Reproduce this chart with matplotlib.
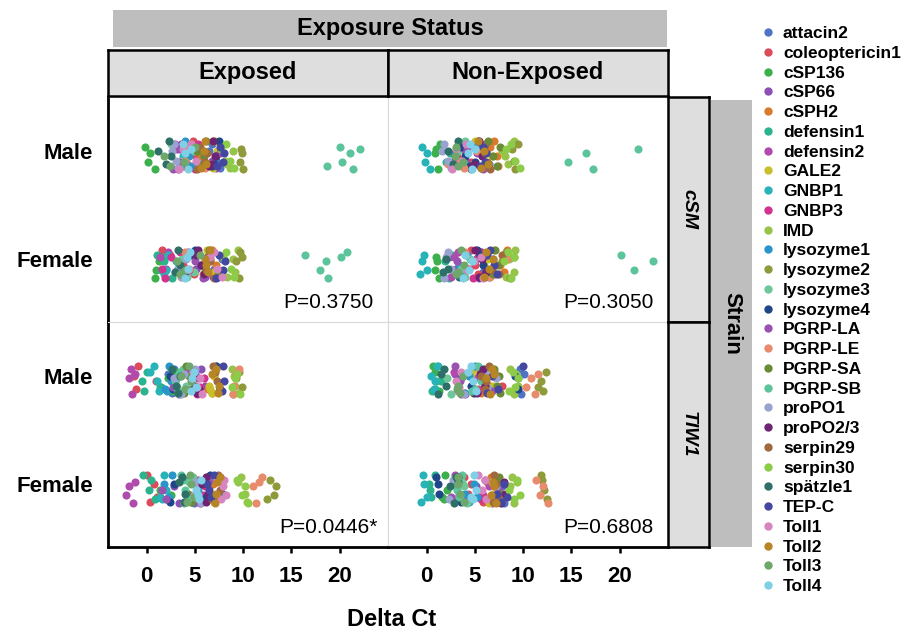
import matplotlib.pyplot as plt
from matplotlib.lines import Line2D

plt.rcParams['font.family'] = ['Liberation Sans', 'DejaVu Sans']

genes = ['attacin2', 'coleoptericin1', 'cSP136', 'cSP66', 'cSPH2', 'defensin1',
         'defensin2', 'GALE2', 'GNBP1', 'GNBP3', 'IMD', 'lysozyme1', 'lysozyme2',
         'lysozyme3', 'lysozyme4', 'PGRP-LA', 'PGRP-LE', 'PGRP-SA', 'PGRP-SB',
         'proPO1', 'proPO2/3', 'serpin29', 'serpin30', 'spätzle1', 'TEP-C',
         'Toll1', 'Toll2', 'Toll3', 'Toll4']
gene_colors = ['#4f74c4', '#dc4b5a', '#3cb04a', '#8c4fb5', '#d97a2c', '#2bb38e',
               '#b04aad', '#c8bf2d', '#27b3b8', '#d1338f', '#98c34a', '#2a95c8',
               '#8f9a3b', '#6dc79a', '#20468a', '#9a52b0', '#e88a6c', '#6b8a35',
               '#5cc49a', '#9aa3cf', '#6e2472', '#a06a3e', '#8ccc48', '#2e6f68',
               '#4447a0', '#d685bf', '#b78526', '#6fa76a', '#7fd0e6']

sexes = ['Male', 'Female']
exposures = ['Exposed', 'Non-Exposed']
strains = ['cSM', 'TIW1']
p_labels = [['P=0.3750', 'P=0.3050'], ['P=0.0446*', 'P=0.6808']]
x_ticks = [0, 5, 10, 15, 20]

# Delta Ct per gene (same order as genes), one list per strain/exposure/sex
csm_exp_male = [
    [6.8, 7.2, 7.6, 6.5], [4.2, 4.8, 5.1, 3.9], [-0.2, 0.1, 0.3, 0.9], [3.1, 3.6, 6.8, 7.2],
    [5.8, 6.4, 6.9, 5.6], [3.5, 4.1, 5.9, 6.1], [3.2, 3.5, 2.9, 4.0], [6.9, 7.3, 6.6, 7.1],
    [3.8, 4.4, 4.0, 3.6], [4.5, 5.0, 4.7, 5.3], [8.1, 8.6, 8.9, 8.3], [4.0, 4.4, 4.7, 3.7],
    [9.7, 9.9, 10.0, 9.8], [2.5, 3.6, 3.4, 4.9], [7.0, 7.5, 7.2, 6.8], [3.2, 3.4, 7.6, 2.7],
    [4.2, 4.6, 4.0, 6.0], [5.2, 5.6, 6.1, 5.9], [18.7, 20.0, 20.2, 21.1, 21.4, 22.1],
    [2.8, 3.0, 3.3, 2.6], [6.7, 6.9, 7.1, 6.5], [5.5, 6.0, 6.3, 5.2], [7.7, 8.2, 8.6, 9.0],
    [1.2, 2.0, 2.3, 2.5], [7.3, 7.6, 7.9, 8.0], [3.4, 3.8, 4.6, 5.1], [5.6, 5.9, 6.2, 6.0],
    [1.8, 2.4, 5.0, 3.9], [4.0, 4.3, 4.6, 3.8]]
csm_exp_female = [
    [7.0, 7.4, 7.8, 6.6], [1.6, 3.8, 4.9, 2.4], [1.0, 1.3, 0.9, 1.6], [4.3, 5.1, 6.0, 6.6],
    [6.2, 6.8, 7.2, 5.8], [1.1, 1.5, 1.8, 2.6], [1.4, 2.2, 2.0, 6.9], [6.6, 7.0, 6.3, 5.9],
    [1.8, 2.2, 2.0, 3.0], [1.9, 2.5, 3.5, 1.6], [8.3, 8.9, 9.2, 9.5], [3.4, 4.0, 4.4, 3.1],
    [9.3, 9.6, 9.9, 9.7], [3.3, 4.2, 3.7, 4.9], [5.0, 5.6, 3.9, 4.6], [4.4, 5.0, 5.8, 6.4],
    [4.0, 4.4, 3.6, 6.3], [6.0, 6.5, 5.7, 7.4], [16.4, 18.0, 18.6, 18.8, 20.1, 20.8],
    [3.2, 3.7, 4.1, 2.9], [5.3, 5.6, 5.9, 5.1], [6.1, 6.6, 7.0, 6.3], [8.2, 8.7, 9.0, 8.0],
    [2.9, 3.2, 3.5, 3.6], [7.5, 7.9, 8.1, 7.2], [6.6, 7.0, 7.3, 7.8], [6.0, 6.4, 6.6, 6.2],
    [3.5, 5.5, 4.0, 3.1], [4.0, 4.2, 4.5, 4.3]]
csm_non_male = [
    [5.7, 6.2, 6.5, 5.3], [3.1, 3.9, 5.4, 4.6], [0.9, 1.2, 1.0, 1.4], [2.8, 5.6, 6.2, 4.9],
    [7.0, 7.3, 7.4, 6.6], [2.0, 2.4, 4.6, 3.1], [3.5, 3.0, 2.6, 4.0], [4.8, 5.0, 6.8, 4.3],
    [-0.5, -0.2, 0.0, 0.3], [3.4, 3.8, 4.1, 4.5], [7.8, 8.4, 9.0, 8.1], [4.4, 5.0, 3.9, 2.9],
    [9.2, 8.8, 9.5, 9.0], [2.6, 3.2, 3.6, 4.0], [4.0, 4.5, 3.6, 5.0], [5.2, 5.8, 4.2, 6.0],
    [3.3, 3.9, 5.2, 2.2], [6.4, 6.9, 7.3, 7.6], [14.6, 16.5, 17.2, 21.9],
    [1.8, 2.2, 2.5, 1.6], [5.0, 5.4, 5.7, 4.7], [5.9, 6.3, 6.0, 6.6], [8.2, 8.7, 9.2, 9.7],
    [2.2, 2.7, 3.3, 2.9], [5.5, 5.8, 6.0, 6.2], [2.6, 3.0, 4.1, 3.7], [5.6, 5.9, 6.4, 5.3],
    [2.9, 3.3, 3.0, 3.8], [4.3, 4.7, 5.0, 4.5]]
csm_non_female = [
    [6.1, 6.5, 6.9, 5.8], [4.6, 5.0, 5.3, 4.1], [0.9, 1.1, 1.3, 1.0], [5.6, 6.2, 6.0, 5.1],
    [8.0, 8.3, 7.6, 7.1], [2.6, 3.1, 1.9, 2.3], [2.8, 3.3, 3.0, 2.5], [6.4, 6.8, 7.0, 5.9],
    [-0.7, -0.3, 0.0, -0.5], [4.8, 5.3, 5.6, 4.4], [8.2, 8.5, 9.0, 9.2], [3.4, 3.8, 4.2, 3.1],
    [7.8, 8.6, 9.1, 8.2], [3.6, 4.0, 4.5, 3.3], [5.2, 5.8, 6.0, 5.5], [2.7, 3.1, 5.4, 2.3],
    [4.0, 4.3, 6.6, 8.3], [6.6, 7.1, 7.4, 6.9], [20.1, 21.5, 23.4],
    [1.8, 2.0, 2.2, 2.5], [5.4, 5.7, 6.1, 5.0], [7.1, 7.5, 7.8, 6.8], [8.0, 8.7, 9.1, 8.4],
    [2.2, 3.4, 2.0, 1.7], [6.6, 7.0, 7.3, 6.3], [4.2, 4.9, 5.8, 5.6], [6.2, 6.5, 5.9, 6.9],
    [3.2, 3.6, 3.9, 3.0], [4.0, 4.4, 4.7, 3.8]]
tiw_exp_male = [
    [2.2, 2.8, 3.0, 2.6], [-1.3, -1.1, -0.9, 1.0], [2.6, 3.0, 1.5, 2.2], [3.4, 5.0, 5.6, 6.0],
    [6.8, 7.0, 6.4, 7.2], [-0.5, -0.3, 0.0, 1.4], [-1.8, -1.5, -1.2, -1.6], [6.5, 6.8, 7.0, 6.6],
    [0.8, 1.1, 1.3, 0.3], [5.5, 5.9, 5.2, 4.8], [8.8, 9.2, 9.6, 9.0], [1.9, 2.3, 2.5, 2.1],
    [9.6, 9.9, 9.3, 8.9], [3.4, 3.8, 4.1, 3.2], [2.4, 2.7, 7.2, 2.9], [3.2, 4.2, 2.7, 5.3],
    [8.9, 9.3, 9.6, 9.0], [3.9, 4.4, 4.7, 4.1], [2.9, 3.3, 3.5, 3.1],
    [2.8, 3.6, 3.9, 5.0], [5.0, 5.2, 4.9, 5.4], [6.9, 7.3, 7.5, 7.1], [8.8, 9.2, 9.7, 9.4],
    [2.6, 3.0, 3.3, 3.5], [7.6, 7.9, 8.0, 7.8], [4.8, 5.2, 5.5, 5.7], [6.8, 7.2, 7.5, 7.4],
    [3.6, 4.0, 4.4, 4.6], [4.6, 4.9, 5.1, 4.7]]
tiw_exp_female = [
    [4.9, 5.3, 7.6, 7.9], [0.4, 0.8, 1.1, 0.0], [1.4, 2.0, 4.2, 2.5], [2.8, 3.4, 5.8, 6.3],
    [4.3, 4.6, 6.9, 7.3], [-0.4, 0.2, 0.9, 0.5], [-2.1, -1.8, -1.4, -1.2], [6.3, 6.7, 7.0, 6.1],
    [1.4, 1.8, 2.0, 1.6], [5.3, 5.8, 6.0, 5.5], [9.5, 9.8, 10.2, 10.4], [1.8, 2.3, 2.6, 5.3],
    [12.5, 12.8, 13.2, 13.4], [3.9, 4.4, 4.8, 4.2], [2.4, 2.8, 6.2, 6.6], [1.6, 2.0, 6.5, 7.1],
    [11.0, 11.3, 11.6, 11.9], [4.3, 4.6, 5.0, 4.9], [3.6, 4.0, 4.3, 3.8],
    [4.9, 5.2, 5.6, 5.0], [6.1, 6.4, 6.2, 5.7], [7.0, 7.4, 7.6, 6.8], [9.4, 9.9, 10.2, 10.5],
    [3.4, 3.7, 4.0, 3.9], [6.3, 6.7, 7.0, 6.5], [7.7, 8.0, 8.2, 7.9], [7.1, 7.3, 7.6, 7.2],
    [4.2, 4.6, 4.9, 4.5], [5.1, 5.4, 5.6, 5.3]]
tiw_non_male = [
    [9.5, 9.8, 10.1, 9.7], [7.8, 3.9, 6.2, 5.3], [0.7, 1.0, 1.3, 0.9], [3.2, 3.6, 4.0, 2.9],
    [6.1, 6.6, 5.6, 7.0], [0.9, 1.2, 1.5, 0.6], [2.8, 3.3, 5.0, 3.6], [4.6, 5.0, 6.9, 4.8],
    [0.5, 0.8, 1.1, 0.9], [5.3, 5.6, 5.9, 6.2], [9.0, 9.3, 8.6, 9.5], [4.0, 4.4, 4.8, 5.0],
    [11.8, 12.1, 12.4, 11.5], [2.1, 2.5, 5.8, 6.0], [4.6, 4.9, 9.2, 9.5], [2.9, 3.5, 6.8, 7.0],
    [10.3, 10.8, 11.2, 11.5], [7.0, 7.3, 7.6, 7.5], [5.0, 5.3, 5.6, 4.7],
    [6.0, 6.3, 7.2, 3.9], [5.5, 5.8, 6.0, 5.2], [5.6, 6.0, 6.5, 6.2], [8.5, 8.9, 9.2, 9.5],
    [1.2, 1.5, 1.8, 2.0], [6.3, 6.8, 7.4, 10.0], [3.0, 3.3, 3.6, 3.4], [6.2, 6.6, 7.0, 6.8],
    [3.2, 3.5, 3.8, 3.1], [4.6, 4.8, 5.1, 4.3]]
tiw_non_female = [
    [7.4, 7.8, 8.0, 7.6], [3.9, 4.3, 5.8, 4.6], [1.6, 1.9, 2.1, 1.8], [3.0, 3.4, 5.1, 6.8],
    [6.3, 6.7, 7.0, 6.5], [0.2, 0.5, 0.9, 0.4], [3.3, 3.6, 4.0, 6.5], [6.5, 6.8, 7.1, 6.9],
    [-0.6, -0.3, 0.0, -0.4], [5.2, 5.6, 6.0, 5.8], [8.6, 9.0, 9.4, 8.8], [4.0, 4.4, 4.9, 5.2],
    [11.8, 12.2, 12.5, 12.0], [3.5, 3.9, 4.2, 3.7], [1.0, 1.3, 3.6, 1.2], [2.5, 2.9, 7.5, 7.9],
    [11.3, 11.7, 12.1, 12.6], [7.2, 7.5, 7.7, 7.3], [2.9, 3.4, 3.7, 3.1],
    [2.3, 2.7, 7.0, 7.2], [7.7, 8.0, 3.3, 8.1], [6.9, 7.2, 7.4, 7.0], [8.5, 9.0, 9.4, 9.7],
    [2.4, 2.8, 3.2, 3.0], [7.3, 7.7, 8.0, 8.3], [5.3, 5.7, 6.1, 6.0], [6.7, 7.0, 7.2, 6.9],
    [3.2, 3.5, 3.9, 3.3], [4.6, 4.9, 5.1, 4.8]]

panel_data = {
    ('cSM', 'Exposed'): [csm_exp_male, csm_exp_female],
    ('cSM', 'Non-Exposed'): [csm_non_male, csm_non_female],
    ('TIW1', 'Exposed'): [tiw_exp_male, tiw_exp_female],
    ('TIW1', 'Non-Exposed'): [tiw_non_male, tiw_non_female],
}

W, H = 904, 630


def box(x0, y0, x1, y1):
    # pixel box (top-left origin) -> figure fraction rect
    return [x0 / W, 1 - y1 / H, (x1 - x0) / W, (y1 - y0) / H]


def strip(x0, y0, x1, y1, face, label, border, rot=0, style='normal', size=17):
    sa = fig.add_axes(box(x0, y0, x1, y1))
    sa.set_facecolor(face)
    sa.set_xticks([])
    sa.set_yticks([])
    for sp in sa.spines.values():
        sp.set_visible(border)
        sp.set_linewidth(1.8)
        sp.set_color('black')
    sa.text(0.5, 0.5, label, ha='center', va='center', rotation=rot,
            fontsize=size, fontweight='bold', style=style, transform=sa.transAxes)


# vertical jitter offsets (category units)
jitter = [-0.11, 0.05, 0.12, -0.04, 0.08, -0.13, 0.01, 0.10, -0.08, 0.06, -0.02, 0.13, -0.06]

fig = plt.figure(figsize=(9.04, 6.3), dpi=100)

k = 0
for r, strain in enumerate(strains):
    for c, expo in enumerate(exposures):
        ax = fig.add_axes(box(108 + 280 * c, 97 + 225 * r, 388 + 280 * c, 322 + 225 * r))
        for s, vals in enumerate(panel_data[(strain, expo)]):
            for g, xs in enumerate(vals):
                ys = []
                for x in xs:
                    ys.append(s + 0.04 + jitter[k % len(jitter)])
                    k += 1
                ax.scatter(xs, ys, s=34, color=gene_colors[g], linewidths=0, zorder=2)
        ax.set_xlim(-4.0, 25.0)
        ax.set_ylim(1.58, -0.5)
        ax.text(18.8, 1.4, p_labels[r][c], ha='center', va='center', fontsize=15)
        for sp in ax.spines.values():
            sp.set_color('#d9d9d9')
            sp.set_linewidth(0.8)
        if c == 0:
            ax.spines['left'].set_color('black')
            ax.spines['left'].set_linewidth(2)
            ax.set_yticks([0, 1])
            ax.set_yticklabels(sexes, fontsize=16, fontweight='bold')
            ax.tick_params(axis='y', length=0, pad=11)
        else:
            ax.set_yticks([])
        if r == 1:
            ax.spines['bottom'].set_color('black')
            ax.spines['bottom'].set_linewidth(2)
            ax.set_xticks(x_ticks)
            ax.set_xticklabels([str(t) for t in x_ticks], fontsize=16, fontweight='bold')
            ax.tick_params(axis='x', length=4.5, width=1.8, pad=9)
        else:
            ax.set_xticks([])

# facet strips
strip(113, 10, 667, 47, '#bebebe', 'Exposure Status', False)
strip(108, 50, 388, 96, '#dedede', 'Exposed', True)
strip(388, 50, 668, 96, '#dedede', 'Non-Exposed', True)
strip(668, 97, 709, 322, '#dedede', 'cSM', True, rot=-90, style='italic', size=14)
strip(668, 322, 709, 547, '#dedede', 'TIW1', True, rot=-90, style='italic', size=14)
strip(711, 100, 752, 547, '#bebebe', 'Strain', False, rot=-90, size=16)

fig.text(392 / W, 1 - 619 / H, 'Delta Ct', ha='center', va='center',
         fontsize=17, fontweight='bold')

handles = [Line2D([], [], marker='o', ls='', color=col, markersize=5) for col in gene_colors]
fig.legend(handles, genes, loc='upper left', bbox_to_anchor=(763 / W, 1 - 26 / H),
           frameon=False, prop={'weight': 'bold', 'size': 12.5}, handlelength=0.6,
           handletextpad=0.55, labelspacing=0.265, borderpad=0, borderaxespad=0)

fig.savefig('out.png', dpi=100)
